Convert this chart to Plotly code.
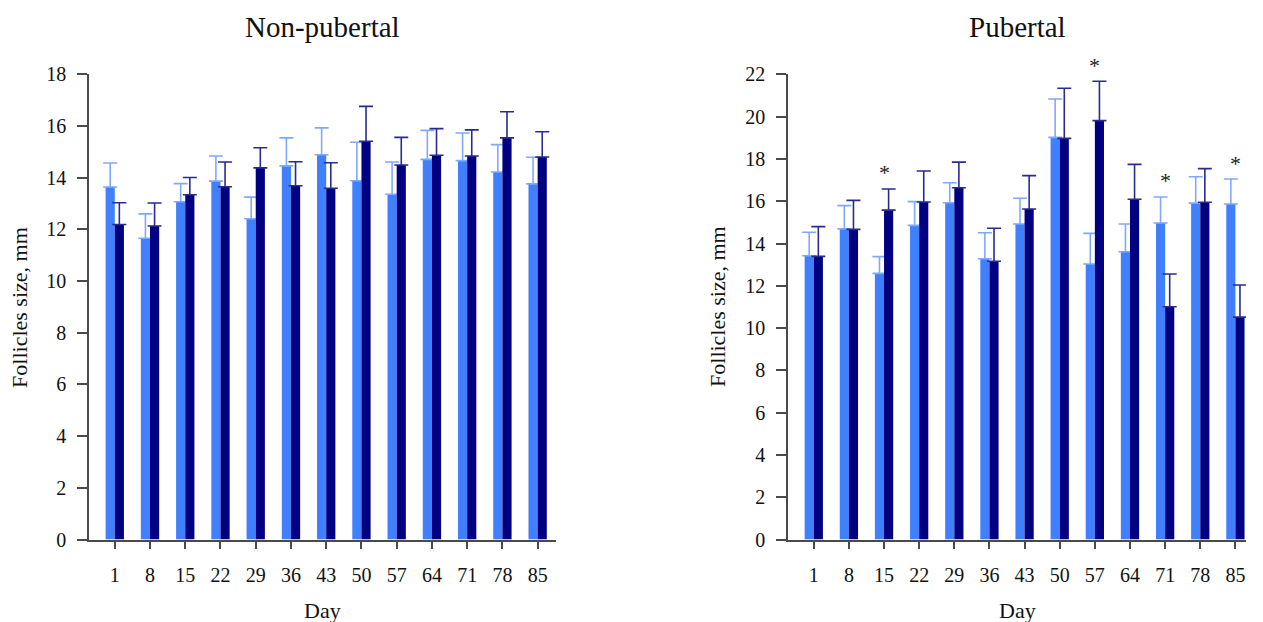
import plotly.graph_objects as go

days = ["1", "8", "15", "22", "29", "36", "43", "50", "57", "64", "71", "78", "85"]

np_light = [13.64, 11.66, 13.07, 13.87, 12.41, 14.46, 14.89, 13.88, 13.36, 14.71, 14.66, 14.22, 13.76]
np_light_err = [0.93, 0.94, 0.70, 0.97, 0.84, 1.08, 1.04, 1.49, 1.25, 1.12, 1.07, 1.06, 1.03]
np_dark = [12.19, 12.13, 13.34, 13.65, 14.38, 13.69, 13.59, 15.41, 14.49, 14.87, 14.84, 15.54, 14.80]
np_dark_err = [0.84, 0.89, 0.67, 0.96, 0.78, 0.93, 0.99, 1.35, 1.07, 1.03, 1.01, 1.01, 0.98]

pub_light = [13.42, 14.69, 12.59, 14.86, 15.93, 13.28, 14.92, 19.02, 13.03, 13.61, 14.97, 15.91, 15.87]
pub_light_err = [1.11, 1.10, 0.79, 1.12, 0.94, 1.23, 1.22, 1.81, 1.45, 1.31, 1.23, 1.25, 1.18]
pub_dark = [13.39, 14.67, 15.58, 15.96, 16.64, 13.16, 15.63, 18.97, 19.81, 16.09, 11.01, 15.95, 10.52]
pub_dark_err = [1.41, 1.37, 1.00, 1.47, 1.21, 1.56, 1.58, 2.37, 1.86, 1.65, 1.55, 1.59, 1.52]

pub_star_days = ["15", "57", "71", "85"]

LIGHT = "#4080FF"
DARK = "#000080"
LIGHT_ERR = "#80A8FF"
DARK_ERR = "#2A2A90"
AXIS = "#4a4a4a"
FONT = "Liberation Serif, Times New Roman, serif"
TXT = "#111111"

fig = go.Figure()


def add_pair(light, light_err, dark, dark_err, xa, ya):
    fig.add_trace(go.Bar(
        x=days, y=light, xaxis=xa, yaxis=ya, marker=dict(color=LIGHT, line=dict(width=0)),
        error_y=dict(type="data", array=light_err, arrayminus=[0] * len(light_err), symmetric=False,
                     color=LIGHT_ERR, thickness=1.6, width=7),
        showlegend=False))
    fig.add_trace(go.Bar(
        x=days, y=dark, xaxis=xa, yaxis=ya, marker=dict(color=DARK, line=dict(width=0)),
        error_y=dict(type="data", array=dark_err, arrayminus=[0] * len(dark_err), symmetric=False,
                     color=DARK_ERR, thickness=1.6, width=7),
        showlegend=False))


add_pair(np_light, np_light_err, np_dark, np_dark_err, "x", "y")
add_pair(pub_light, pub_light_err, pub_dark, pub_dark_err, "x2", "y2")

X1 = [0.0705, 0.4402]
X2 = [0.624, 0.9865]
YD = [0.1325, 0.8805]

annotations = []
for d in pub_star_days:
    i = days.index(d)
    top = max(pub_light[i] + pub_light_err[i], pub_dark[i] + pub_dark_err[i])
    annotations.append(dict(x=i, y=top, xref="x2", yref="y2", text="*", showarrow=False,
                            yanchor="middle", yshift=16, font=dict(family=FONT, size=22, color="#222222")))

for dom, title, ytx in ((X1, "Non-pubertal", 0.0158), (X2, "Pubertal", 0.5685)):
    cx = (dom[0] + dom[1]) / 2
    annotations.append(dict(x=cx, y=1 - 27 / 622, xref="paper", yref="paper", text=title,
                            showarrow=False, xanchor="center", yanchor="middle",
                            font=dict(family=FONT, size=29, color=TXT)))
    annotations.append(dict(x=cx, y=1 - 610 / 622, xref="paper", yref="paper", text="Day",
                            showarrow=False, xanchor="center", yanchor="middle",
                            font=dict(family=FONT, size=22, color=TXT)))
    annotations.append(dict(x=ytx, y=(YD[0] + YD[1]) / 2, xref="paper", yref="paper",
                            text="Follicles size, mm", textangle=-90, showarrow=False,
                            xanchor="center", yanchor="middle",
                            font=dict(family=FONT, size=22, color=TXT)))

axis_common = dict(showline=True, linecolor=AXIS, linewidth=1.5, ticks="outside",
                   tickcolor=AXIS, tickwidth=1.5, showgrid=False, zeroline=False, automargin=False,
                   tickfont=dict(family=FONT, size=20, color=TXT))

fig.update_layout(
    width=1263, height=622,
    margin=dict(l=0, r=0, t=0, b=0),
    paper_bgcolor="white", plot_bgcolor="white",
    barmode="group", bargap=0.48, bargroupgap=0,
    font=dict(family=FONT, color=TXT),
    annotations=annotations,
    xaxis=dict(domain=X1, range=[-0.73, 12.52], type="category", ticklen=8, ticklabelstandoff=9,
               anchor="y", **axis_common),
    yaxis=dict(domain=YD, range=[0, 18], dtick=2, ticklen=10, ticklabelstandoff=7,
               anchor="x", **axis_common),
    xaxis2=dict(domain=X2, range=[-0.73, 12.3], type="category", ticklen=8, ticklabelstandoff=9,
                anchor="y2", **axis_common),
    yaxis2=dict(domain=YD, range=[0, 22], dtick=2, ticklen=10, ticklabelstandoff=7,
                anchor="x2", **axis_common),
)

fig.write_html("out.html")
